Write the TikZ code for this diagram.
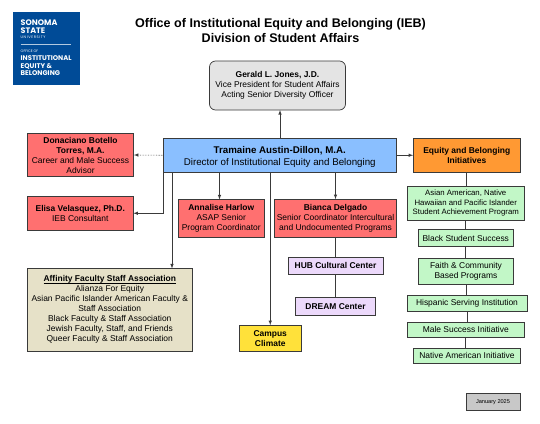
\documentclass[tikz,border=0pt]{standalone}
\usepackage{fontspec}
\setmainfont{Liberation Sans}
\newfontfamily\logofont{Poppins}
\definecolor{logoblue}{HTML}{004B97}
\definecolor{boxedge}{HTML}{3A3A3A}
\definecolor{graybox}{HTML}{E4E4E4}
\definecolor{bluebox}{HTML}{8ABFFF}
\definecolor{redbox}{HTML}{FF7070}
\definecolor{orangebox}{HTML}{FF9933}
\definecolor{greenbox}{HTML}{C2F7C7}
\definecolor{purplebox}{HTML}{ECD9FB}
\definecolor{tanbox}{HTML}{E6E1C8}
\definecolor{yellowbox}{HTML}{FFE13A}
\definecolor{datebox}{HTML}{C8C8C8}
\newlength{\ruledlen}
\newcommand{\ruledtext}[1]{\settowidth{\ruledlen}{#1}\makebox[0pt][l]{\rule[-1.2pt]{\ruledlen}{0.55pt}}#1}
\tikzset{
  card/.style={draw=boxedge, line width=0.7pt, align=center, inner sep=0pt, font=\fontsize{8.45}{10}\selectfont},
  arrowline/.style={draw=boxedge, line width=0.6pt, -latex},
  plainline/.style={draw=boxedge, line width=0.6pt},
  logotext/.style={text=white, anchor=west, inner sep=0pt, font=\logofont\bfseries\fontsize{8}{8}\selectfont},
  logomid/.style={logotext, font=\logofont\bfseries\fontsize{6.8}{6.8}\selectfont},
  logosmall/.style={logotext, font=\logofont\fontsize{3.6}{4}\selectfont},
}
\begin{document}
\begin{tikzpicture}[x=1pt,y=1pt]
\useasboundingbox (0,0) rectangle (540,-423);
% logo
\fill[logoblue] (12.5,-12) rectangle (80,-85);
\node[logotext] (sonoma) at (20.5,-23) {SONOMA};
\node[logotext] (state) at (20.5,-30.5) {STATE};
\node[logosmall] (university) at (20.5,-37) {U\,N\,I\,V\,E\,R\,S\,I\,T\,Y};
\draw[white!70!logoblue, line width=0.4pt] (20.5,-44) -- (71,-44);
\node[logosmall] (officeof) at (20.5,-51) {OFFICE OF};
\node[logomid] (institutional) at (20.5,-58.5) {INSTITUTIONAL};
\node[logomid] (equity) at (20.5,-66) {EQUITY \&};
\node[logomid] (belonging) at (20.5,-73.5) {BELONGING};
% title
\node[align=center, inner sep=0pt, font=\bfseries\fontsize{12.55}{15.2}\selectfont] (title) at (280.5,-30.5)
  {Office of Institutional Equity and Belonging (IEB)\\Division of Student Affairs};
% people
\node[card, fill=graybox, rounded corners=6pt, minimum width=136, minimum height=49] (gerald) at (277.5,-85.5)
  {\textbf{Gerald L. Jones, J.D.}\\Vice President for Student Affairs\\Acting Senior Diversity Officer};
\node[card, fill=bluebox, minimum width=232.5, minimum height=33.5, font=\fontsize{9.75}{11.8}\selectfont] (tramaine) at (279.75,-155.25)
  {\rule{0pt}{11pt}\textbf{Tramaine Austin-Dillon, M.A.}\\Director of Institutional Equity and Belonging};
\node[card, fill=redbox, minimum width=106, minimum height=43] (donaciano) at (80.5,-155)
  {\textbf{Donaciano Botello}\\\textbf{Torres, M.A.}\\Career and Male Success\\Advisor};
\node[card, fill=redbox, minimum width=105.5, minimum height=33.5] (elisa) at (80.25,-213.25)
  {\textbf{Elisa Velasquez, Ph.D.}\\IEB Consultant};
\node[card, fill=redbox, minimum width=85.5, minimum height=38] (annalise) at (221.25,-218.5)
  {\textbf{Annalise Harlow}\\ASAP Senior\\Program Coordinator};
\node[card, fill=redbox, minimum width=122, minimum height=38] (bianca) at (335.5,-218.5)
  {\textbf{Bianca Delgado}\\Senior Coordinator Intercultural\\and Undocumented Programs};
\node[card, fill=purplebox, minimum width=95, minimum height=17] (hub) at (335.5,-265.5)
  {\textbf{HUB Cultural Center}};
\node[card, fill=purplebox, minimum width=80, minimum height=17.5] (dream) at (335.5,-306.25)
  {\textbf{DREAM Center}};
\node[card, fill=tanbox, minimum width=164.5, minimum height=82.5] (affinity) at (109.75,-309.75)
  {\ruledtext{\textbf{Affinity Faculty Staff Association}}\\Alianza For Equity\\Asian Pacific Islander American Faculty \&\\Staff Association\\Black Faculty \& Staff Association\\Jewish Faculty, Staff, and Friends\\Queer Faculty \& Staff Association};
\node[card, fill=yellowbox, minimum width=61.5, minimum height=25.5] (campus) at (270.25,-338.25)
  {\textbf{Campus}\\\textbf{Climate}};
% initiatives
\node[card, fill=orangebox, minimum width=106.5, minimum height=33.5] (initiatives) at (466.75,-155.25)
  {\textbf{Equity and Belonging}\\\textbf{Initiatives}};
\node[card, fill=greenbox, minimum width=117.5, minimum height=34, font=\fontsize{7.8}{9.4}\selectfont] (asian) at (465.75,-203)
  {Asian American, Native\\Hawaiian and Pacific Islander\\Student Achievement Program};
\node[card, fill=greenbox, minimum width=95.5, minimum height=17] (black) at (465.75,-238)
  {Black Student Success};
\node[card, fill=greenbox, minimum width=95, minimum height=25.5] (faith) at (466,-271.25)
  {Faith \& Community\\Based Programs};
\node[card, fill=greenbox, minimum width=120, minimum height=16.5] (hispanic) at (467,-303.25)
  {Hispanic Serving Institution};
\node[card, fill=greenbox, minimum width=117.5, minimum height=15.5] (male) at (465.75,-329.75)
  {Male Success Initiative};
\node[card, fill=greenbox, minimum width=107, minimum height=15] (native) at (467,-355.5)
  {Native American Initiative};
\node[card, fill=datebox, minimum width=54, minimum height=16.5, font=\fontsize{5.6}{6}\selectfont] (date) at (493,-401.75)
  {January 2025};
% connectors
\coordinate (affinitytop) at (172,-268.5);
\coordinate (annalisetop) at (219.5,-199.5);
\coordinate (geraldfoot) at (280,-110);
\draw[arrowline] (geraldfoot |- tramaine.north) -- (geraldfoot);
\draw[arrowline, densely dotted] (tramaine.west) -- (donaciano.east);
\draw[arrowline] (tramaine.south west) |- (elisa.east);
\draw[arrowline] (affinitytop |- tramaine.south) -- (affinitytop);
\draw[arrowline] (annalisetop |- tramaine.south) -- (annalisetop);
\draw[arrowline] (campus.north |- tramaine.south) -- (campus.north);
\draw[arrowline] (bianca.north |- tramaine.south) -- (bianca.north);
\draw[arrowline] (tramaine.east) -- (initiatives.west);
\foreach \upper/\lower in {bianca/hub, hub/dream, initiatives/asian, asian/black, black/faith, faith/hispanic, hispanic/male, male/native}
\draw[plainline] (\upper.south) -- (\upper.south |- \lower.north);
\end{tikzpicture}
\end{document}
